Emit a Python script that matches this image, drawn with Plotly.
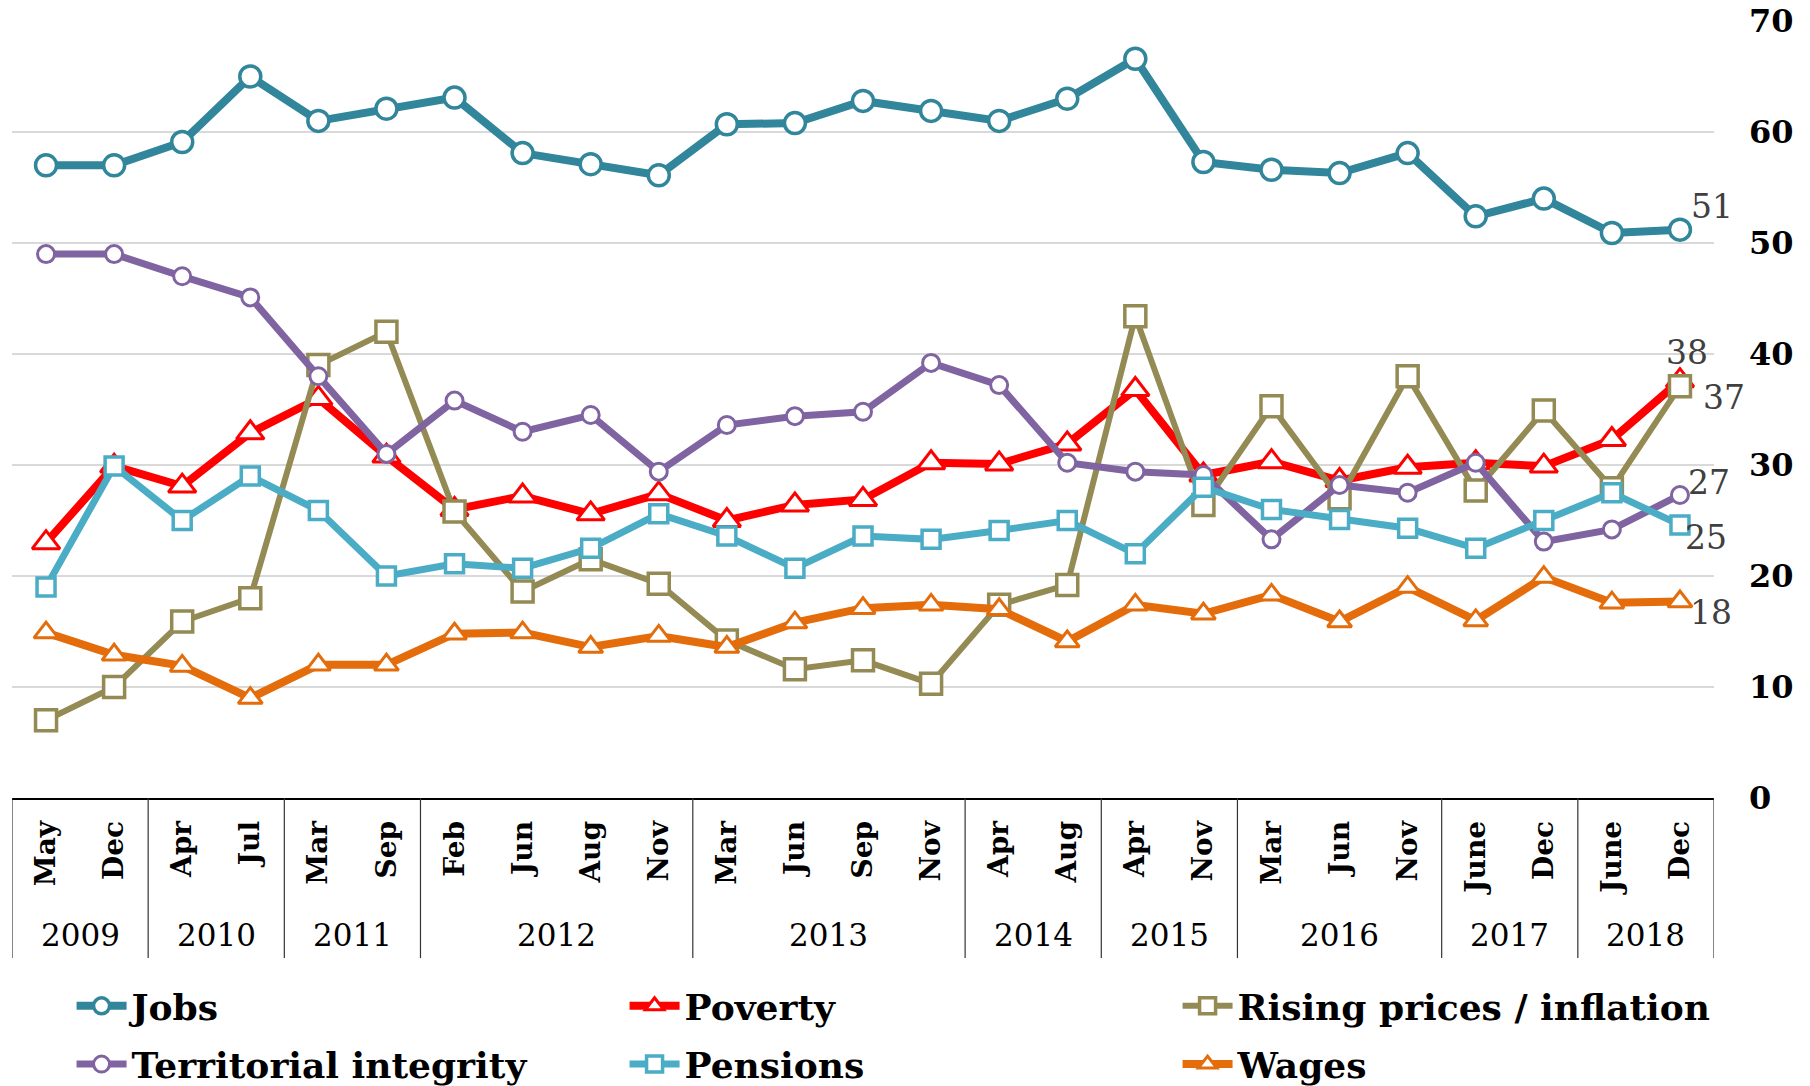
import plotly.graph_objects as go

# ---------------- data ----------------
years = ["2009", "2009", "2010", "2010", "2011", "2011",
         "2012", "2012", "2012", "2012",
         "2013", "2013", "2013", "2013",
         "2014", "2014", "2015", "2015",
         "2016", "2016", "2016", "2017", "2017", "2018", "2018"]
months = ["May", "Dec", "Apr", "Jul", "Mar", "Sep",
          "Feb", "Jun", "Aug", "Nov",
          "Mar", "Jun", "Sep", "Nov",
          "Apr", "Aug", "Apr", "Nov",
          "Mar", "Jun", "Nov", "June", "Dec", "June", "Dec"]

jobs = [57, 57, 59.1, 65, 61, 62.1, 63.1, 58.1, 57.1, 56.1,
        60.7, 60.8, 62.8, 61.9, 61, 63, 66.6, 57.3,
        56.6, 56.3, 58.1, 52.4, 54, 50.9, 51.2]
poverty = [23, 29.9, 28.1, 32.9, 36, 30.8, 26, 27.2, 25.6, 27.4,
           25, 26.4, 26.9, 30.2, 30.1, 31.9, 36.8, 29.1,
           30.3, 28.6, 29.8, 30.2, 29.9, 32.3, 37.6]
rising_prices = [7, 10, 15.9, 18, 39, 42, 25.8, 18.6, 21.5, 19.3,
                 14.2, 11.6, 12.4, 10.3, 17.4, 19.2, 43.4, 26.4,
                 35.3, 27, 38, 27.7, 34.9, 27.9, 37.1]
territorial = [49, 49, 47, 45.1, 38, 31, 35.8, 33, 34.5, 29.4,
               33.6, 34.4, 34.8, 39.2, 37.2, 30.2, 29.4, 29.1,
               23.3, 28.2, 27.5, 30.2, 23.1, 24.2, 27.3]
pensions = [19, 29.9, 25, 29, 25.9, 20, 21.1, 20.7, 22.5, 25.6,
            23.6, 20.7, 23.6, 23.3, 24.1, 25, 22, 28,
            26, 25.1, 24.3, 22.5, 25, 27.5, 24.6]
wages = [14.9, 12.9, 11.9, 9, 12, 12, 14.8, 14.9, 13.6, 14.6,
         13.6, 15.8, 17.1, 17.4, 17, 14.1, 17.4, 16.6,
         18.3, 15.9, 19, 16, 19.9, 17.6, 17.7]

series_names = ["Jobs", "Poverty", "Rising prices / inflation",
                "Territorial integrity", "Pensions", "Wages"]
end_labels = ["51", "38", "37", "27", "25", "18"]

y_ticks = [0, 10, 20, 30, 40, 50, 60, 70]
y_ticklabels = ["0", "10", "20", "30", "40", "50", "60", "70"]

# ---------------- styles ----------------
# lab: (xanchor, xshift px, yshift px) of the end-value label
styles = [
    dict(color="#31869B", symbol="circle", msize=21, mline=3.5, lw=8, lab=("left", 9, 23), legend="legend"),
    dict(color="#FF0000", symbol="triangle-up", msize=24, mline=3, lw=8, lab=("center", 7, 28), legend="legend"),
    dict(color="#948A54", symbol="square", msize=21, mline=3.5, lw=6, lab=("left", 21, -11), legend="legend"),
    dict(color="#8064A2", symbol="circle", msize=17, mline=3, lw=7, lab=("left", 6, 12), legend="legend2"),
    dict(color="#4BACC6", symbol="square", msize=18, mline=3.5, lw=7, lab=("left", 3, -13), legend="legend2"),
    dict(color="#E46C0A", symbol="triangle-up", msize=21, mline=3, lw=8, lab=("left", 8, -11), legend="legend2"),
]
values = [jobs, poverty, rising_prices, territorial, pensions, wages]

SERIF = "DejaVu Serif"
xpos = list(range(len(months)))

fig = go.Figure()
for name, vals, st, lab in zip(series_names, values, styles, end_labels):
    fig.add_trace(go.Scatter(
        x=xpos, y=vals, name=name,
        mode="lines+markers",
        line=dict(color=st["color"], width=st["lw"]),
        marker=dict(symbol=st["symbol"], size=st["msize"], color="white",
                    line=dict(color=st["color"], width=st["mline"])),
        legend=st["legend"],
        cliponaxis=False,
    ))
    xa, xs, ys = st["lab"]
    fig.add_annotation(x=xpos[-1], y=vals[-1], xref="x", yref="y",
                       text=lab, showarrow=False,
                       xanchor=xa, yanchor="middle", xshift=xs, yshift=ys,
                       font=dict(family=SERIF, size=33, color="#404040"))

# year groups -> year labels and divider lines
groups = []
for i, yr in enumerate(years):
    if groups and groups[-1][0] == yr:
        groups[-1][2] = i
    else:
        groups.append([yr, i, i])

DIV_BOTTOM = -0.206
for yr, s, e in groups:
    fig.add_annotation(x=(s + e) / 2, y=-0.176, xref="x", yref="paper",
                       text=yr, showarrow=False, yanchor="middle",
                       font=dict(family=SERIF, size=31, color="black"))
    fig.add_shape(type="line", xref="x", yref="paper",
                  x0=s - 0.5, x1=s - 0.5, y0=0, y1=DIV_BOTTOM,
                  line=dict(color="#333333", width=1.2))
last_end = groups[-1][2]
fig.add_shape(type="line", xref="x", yref="paper",
              x0=last_end + 0.5, x1=last_end + 0.5, y0=0, y1=DIV_BOTTOM,
              line=dict(color="#333333", width=1.2))

legend_common = dict(
    orientation="h", xanchor="left", yanchor="top",
    font=dict(family=SERIF, size=36, color="black", weight="bold"),
    entrywidthmode="pixels", entrywidth=488,
    itemwidth=50, bgcolor="rgba(0,0,0,0)",
)

fig.update_layout(
    width=1810, height=1086,
    paper_bgcolor="white", plot_bgcolor="white",
    margin=dict(l=12, r=96, t=21, b=288, autoexpand=False),
    showlegend=True,
    legend=dict(x=0.035, y=-0.229, **legend_common),
    legend2=dict(x=0.035, y=-0.304, **legend_common),
    xaxis=dict(
        range=[-0.5, len(months) - 0.5],
        tickmode="array", tickvals=xpos, ticktext=months,
        tickangle=-90,
        tickfont=dict(family=SERIF, size=28, color="black", weight="bold"),
        ticklabelstandoff=10,
        showline=True, linecolor="black", linewidth=1.5,
        showgrid=False, zeroline=False, ticks="",
        automargin=False,
    ),
    yaxis=dict(
        side="right", range=[0, 70],
        tickvals=y_ticks, ticktext=y_ticklabels,
        tickfont=dict(family=SERIF, size=32, color="black", weight="bold"),
        showgrid=True, gridcolor="#d9d9d9", gridwidth=1.5,
        zeroline=False, showline=False, ticks="",
        ticklabelstandoff=34,
        automargin=False,
    ),
)

fig.write_html("out.html", config={"displayModeBar": False},
               post_script="document.body.style.margin='0';")
